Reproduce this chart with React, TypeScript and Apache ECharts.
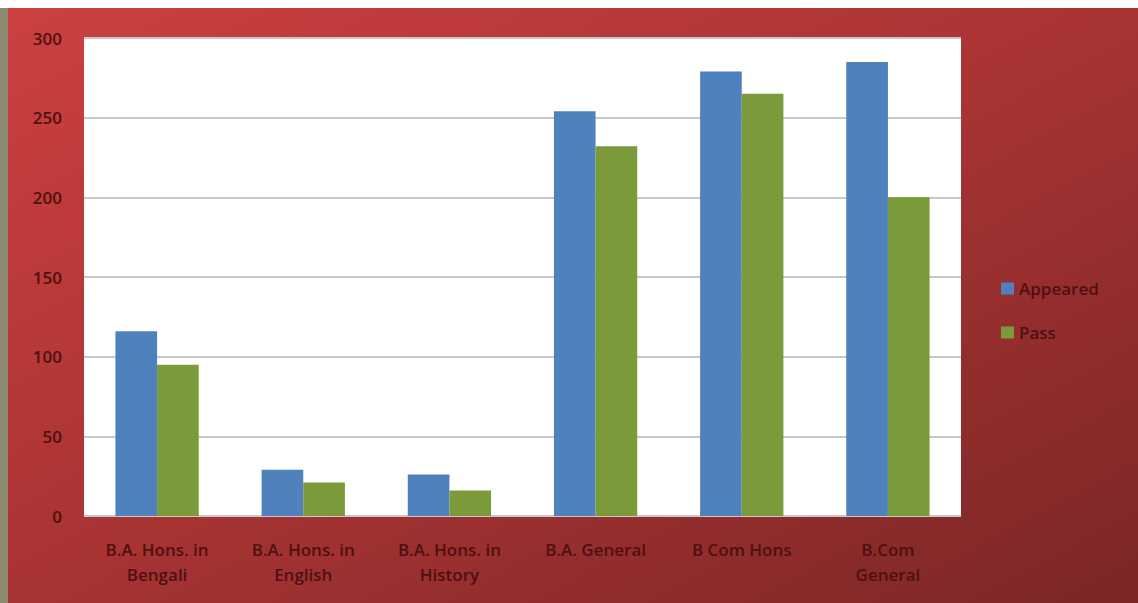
import React, { useEffect, useRef } from "react";
import * as echarts from "echarts";

const categories = [
  "B.A. Hons. in\nBengali",
  "B.A. Hons. in\nEnglish",
  "B.A. Hons. in\nHistory",
  "B.A. General",
  "B Com Hons",
  "B.Com\nGeneral",
];
const appeared = [116, 29, 26, 254, 279, 285];
const pass = [95, 21, 16, 232, 265, 200];
const yTicks = { min: 0, max: 300, interval: 50 };

export default function App() {
  const ref = useRef<HTMLDivElement>(null);
  useEffect(() => {
    const chart = echarts.init(ref.current!, null, { renderer: "svg" });
    const labelColor = "#4e1010";
    chart.setOption({
      animation: false,
      backgroundColor: {
        type: "linear",
        x: 0,
        y: 0,
        x2: 1,
        y2: 1,
        colorStops: [
          { offset: 0, color: "#cc4040" },
          { offset: 0.5, color: "#a83333" },
          { offset: 1, color: "#7a2626" },
        ],
      },
      grid: {
        left: 76,
        top: 30,
        right: 177,
        bottom: 87,
        show: true,
        backgroundColor: "#ffffff",
        borderWidth: 0,
      },
      legend: {
        orient: "vertical",
        left: 988,
        top: 267,
        itemWidth: 13,
        itemHeight: 12,
        itemGap: 27,
        icon: "rect",
        textStyle: { color: labelColor, fontSize: 17, fontFamily: "Open Sans", fontWeight: 600 },
        data: ["Appeared", "Pass"],
      },
      xAxis: {
        type: "category",
        data: categories,
        axisLine: { show: false },
        axisTick: { show: false },
        axisLabel: {
          color: labelColor,
          fontSize: 17,
          fontFamily: "Open Sans",
          fontWeight: 600,
          margin: 21,
          lineHeight: 25,
          interval: 0,
        },
      },
      yAxis: {
        type: "value",
        min: yTicks.min,
        max: yTicks.max,
        interval: yTicks.interval,
        axisLine: { show: false },
        axisTick: { show: false },
        axisLabel: {
          color: labelColor,
          fontSize: 17,
          fontFamily: "Open Sans",
          fontWeight: 600,
          margin: 22,
        },
        splitLine: { lineStyle: { color: "#c8c8c8", width: 2 } },
      },
      series: [
        {
          name: "Appeared",
          type: "bar",
          data: appeared,
          itemStyle: { color: "#4f81bd" },
          barGap: "0%",
          barCategoryGap: "43%",
        },
        {
          name: "Pass",
          type: "bar",
          data: pass,
          itemStyle: { color: "#7b9a3a" },
          barGap: "0%",
          barCategoryGap: "43%",
        },
      ],
    });
    return () => chart.dispose();
  }, []);
  return (
    <div style={{ position: "absolute", left: 0, top: 8, width: 1138, height: 595, display: "flex" }}>
      <div style={{ width: 8, height: 595, flexShrink: 0, background: "#8c8a70" }} />
      <div ref={ref} style={{ width: 1130, height: 595, flexShrink: 0 }} />
    </div>
  );
}
